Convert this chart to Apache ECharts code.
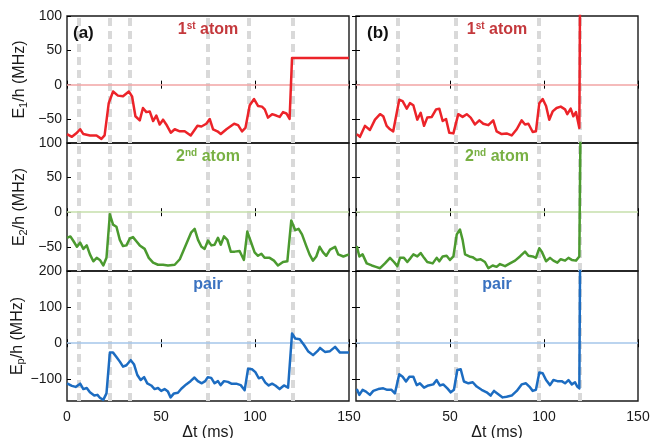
<!DOCTYPE html>
<html><head><meta charset="utf-8">
<script src="https://cdn.jsdelivr.net/npm/echarts@6/dist/echarts.min.js"></script>
<style>html,body{margin:0;padding:0;background:#fff}#c{width:652px;height:438px}</style>
</head><body><div id="c"></div><script>
// ---- data ----
const xTickVals = [0, 50, 100, 150];
const yTicksAtom = [-50, 0, 50, 100];
const yTicksPair = [-100, 0, 100, 200];
const dashA = [6, 23, 33.5, 75, 96.5, 120];
const dashB = [22, 53, 97, 119];

const a1T = [0,2.6,5.3,7,8.7,12.2,15.7,18.3,20,22.2,24.5,27.1,29.8,32.9,34.6,36.4,38.7,40.4,42.2,44,45.8,47.5,49.3,51.1,52.8,55.2,57.3,60,62.6,65.8,69.4,71.5,74.1,75.9,77.7,80,81.8,84.8,88.9,91,93.1,94.9,97.2,99.5,101.6,103.7,105.2,106.9,109.1,111.3,113.1,114.9,116.7,118.4,119.7,150];
const a1V = [-72,-76,-70,-65,-72,-74,-74,-79,-74,-27,-10,-16,-17,-10,-17,-46,-52,-34,-40,-39,-53,-45,-58,-51,-58,-70,-65,-68,-68,-74,-60,-61,-57,-50,-65,-68,-72,-65,-57,-59,-68,-63,-30,-21,-31,-32,-36,-48,-43,-45,-47,-40,-42,-50,39,39];

const a2T = [0,1.8,3.5,5.3,7,8.7,10.5,12.2,14,15.8,17.5,19.3,21,22.8,24.5,26.3,28.1,29.8,31.6,33.4,35.1,36.9,38.7,41.3,43.5,45.8,48.4,51.1,53.7,57.3,60,62.2,64.4,66.1,67.9,69.7,71.5,73.2,75,76.8,78.5,80.3,81.8,83.5,85.3,87.1,89.2,91.8,94.1,95.9,97.7,99.8,101.6,103.4,105.1,107.8,110.1,112.2,114.9,117.2,119.3,121.4,123.2,125,127.3,129,130.8,132.6,134.4,136.2,137.9,139.9,142.6,144.3,147,150];
const a2V = [-37,-35,-42,-50,-44,-53,-48,-61,-71,-66,-69,-77,-66,-3,-18,-21,-40,-49,-48,-38,-36,-42,-48,-53,-66,-73,-76,-76,-77,-76,-68,-54,-40,-29,-24,-40,-50,-53,-41,-48,-47,-37,-47,-35,-40,-57,-57,-56,-69,-28,-42,-58,-63,-60,-66,-66,-70,-77,-72,-71,-12,-26,-24,-32,-49,-61,-70,-64,-50,-58,-63,-54,-50,-61,-64,-61];

const a3T = [0,2.6,4.6,7,8.7,10.5,12.2,14.5,16.2,17.5,19.3,21,22.8,24.5,26.3,28.1,29.8,31.6,33.9,35.7,37.4,39.2,41,42.7,44.8,46.6,48.4,50.1,51.9,53.7,55.1,56.9,59,60.8,63.4,65.7,67.8,69.6,71.7,73.5,74.9,76.7,78.5,80.3,81.7,83.5,85.6,87.4,90,92.4,94.5,96.3,98.4,100.2,102,103.7,105.5,107.3,109.1,110.8,113.1,115.4,117.6,119.7,121.4,123.8,126.1,128.2,130.9,133.2,134.6,137.2,139.9,142.6,145.2,150];
const a3V = [-111,-118,-121,-112,-127,-124,-136,-145,-143,-151,-157,-139,-26,-26,-38,-51,-65,-61,-47,-59,-88,-102,-94,-111,-117,-127,-124,-132,-127,-134,-150,-139,-137,-126,-114,-105,-95,-105,-111,-105,-94,-96,-111,-105,-116,-105,-107,-112,-112,-116,-130,-71,-72,-80,-97,-94,-109,-117,-112,-117,-127,-117,-123,27,13,11,-5,-22,-33,-22,-13,-24,-22,-10,-26,-26];

const b1T = [0.4,2.1,4.8,7.4,10.1,12.8,14.5,16.3,18.1,19.8,23,24.8,27,28.7,30.5,32.6,34.4,36.2,37.9,40.3,42.6,44.3,46.1,47.9,49.6,51.8,54.4,56.7,58.9,61,63.3,65.6,67.7,70.4,73,74.8,77.5,80.1,82.8,85.5,88.1,89.9,91.7,94,95.7,97.5,99.3,101.1,102.8,104.6,106.7,108.9,111.2,112.4,114.2,115.6,117,118.8,119.5];
const b1V = [-72,-76,-60,-66,-51,-43,-46,-60,-65,-68,-22,-24,-35,-27,-30,-51,-41,-60,-48,-47,-36,-35,-53,-50,-70,-71,-43,-47,-43,-48,-58,-52,-57,-59,-52,-68,-72,-71,-74,-65,-52,-58,-57,-69,-68,-27,-21,-31,-51,-39,-34,-32,-36,-43,-35,-46,-40,-63,300];

const b2T = [0.4,1.8,3.5,5.7,8.4,10.6,12.8,15.4,18.1,20.2,22,23.4,25.5,27.3,29.1,30.5,32.6,34.4,36.2,37.9,40.8,42.9,44.3,46.1,48.2,50,51.8,53.6,55.3,56.7,58,60.3,62,64.2,66.3,68.6,70.4,72.7,74.8,76.6,79.3,81.9,84.6,87.2,89.9,91.7,94,95.7,97.5,98.8,101.1,103.2,105,107.1,108.9,111.2,113,114.8,117,118.8,120];
const b2V = [-49,-64,-61,-74,-77,-79,-81,-74,-66,-72,-78,-66,-66,-72,-66,-61,-64,-59,-66,-72,-74,-66,-71,-64,-63,-69,-64,-32,-25,-40,-61,-64,-65,-69,-68,-72,-81,-77,-79,-75,-78,-74,-70,-64,-57,-63,-64,-66,-52,-57,-71,-66,-70,-73,-68,-70,-66,-69,-70,-64,300];

const b3T = [0.4,1.8,3.5,5.3,7.4,9.2,11.8,14.5,16.6,18.9,20.7,23,24.8,26.6,28.4,30.5,32.3,34,36.2,38.5,41.1,42.9,44.6,46.4,48.6,50.4,52.1,53.9,55.7,57.4,59.8,62.1,64.2,66.8,69.5,71.6,73.4,75.7,78,80.1,82.8,85.5,88.1,90.4,92.2,94,95.7,97.5,99.3,101.1,103.2,105,107.1,109.4,111.2,113,114.8,116.5,117.7,118.8,119.5];
const b3V = [-127,-143,-129,-134,-143,-132,-127,-125,-129,-129,-139,-86,-93,-106,-93,-93,-116,-111,-123,-117,-114,-102,-117,-114,-125,-136,-129,-74,-72,-106,-111,-108,-120,-129,-136,-145,-132,-141,-150,-148,-145,-132,-114,-111,-120,-132,-129,-81,-83,-102,-116,-102,-105,-105,-111,-102,-114,-108,-120,-125,500];

// ---- styling / layout ----
const FONT = '"Liberation Sans", Arial, Helvetica, sans-serif';
const colLeft = [67, 356];
const colW = 282;
const rowTop = [16, 143, 271];
const rowH = [127, 128, 130];
const rows = [
  {min: -85, max: 100, ticks: yTicksAtom, name: '{n|E}{s|1}{n|/h (MHz)}', line: '#ec2329', zero: '#f2a5a5',
   title: '{t|1}{u|st}{t| atom}', tcol: '#c4383c'},
  {min: -85, max: 100, ticks: yTicksAtom, name: '{n|E}{s|2}{n|/h (MHz)}', line: '#4b9a2f', zero: '#c6dfab',
   title: '{t|2}{u|nd}{t| atom}', tcol: '#78b043'},
  {min: -160, max: 200, ticks: yTicksPair, name: '{n|E}{s|p}{n|/h (MHz)}', line: '#1c6cc1', zero: '#a5c6ea',
   title: '{t|pair}', tcol: '#3a72c0'}
];
const panels = [
  {c: 0, r: 0, t: a1T, v: a1V}, {c: 0, r: 1, t: a2T, v: a2V}, {c: 0, r: 2, t: a3T, v: a3V},
  {c: 1, r: 0, t: b1T, v: b1V}, {c: 1, r: 1, t: b2T, v: b2V}, {c: 1, r: 2, t: b3T, v: b3V}
];
const minus = v => (v < 0 ? '\u2212' + Math.abs(v) : String(v));

const grid = [], xAxis = [], yAxis = [], series = [], graphic = [];
const tickStyle = {show: true, inside: true, length: 4, lineStyle: {color: '#000', width: 1}};

panels.forEach((p, i) => {
  const R = rows[p.r];
  grid.push({left: colLeft[p.c], top: rowTop[p.r], width: colW, height: rowH[p.r],
    show: true, borderColor: '#1a1a1a', borderWidth: 1.4, backgroundColor: 'transparent', outerBoundsMode: 'none'});
  const xLabels = p.r === 2 ? (p.c === 0 ? xTickVals : xTickVals.slice(1)) : [];
  xAxis.push({type: 'value', gridIndex: i, min: 0, max: 150, position: 'bottom',
    axisLine: {show: false}, splitLine: {show: false},
    axisTick: Object.assign({customValues: xTickVals}, tickStyle),
    axisLabel: {show: p.r === 2, customValues: xLabels, margin: 9, fontSize: 14, color: '#1a1a1a', fontFamily: FONT},
    name: p.r === 2 ? '\u0394t (ms)' : '', nameLocation: 'middle', nameGap: 22,
    nameTextStyle: {fontSize: 16, color: '#1a1a1a', fontFamily: FONT}});
  xAxis.push({type: 'value', gridIndex: i, min: 0, max: 150, position: 'top',
    axisLine: {show: false}, splitLine: {show: false},
    axisTick: Object.assign({customValues: xTickVals}, tickStyle), axisLabel: {show: false}});
  yAxis.push({type: 'value', gridIndex: i, min: R.min, max: R.max, position: 'left',
    axisLine: {show: false}, splitLine: {show: false},
    axisTick: Object.assign({customValues: R.ticks}, tickStyle),
    axisLabel: {show: p.c === 0, customValues: R.ticks, formatter: minus, margin: 5, fontSize: 14, color: '#1a1a1a', fontFamily: FONT},
    name: p.c === 0 ? R.name : '', nameLocation: 'middle', nameGap: 38, nameRotate: 90,
    nameTextStyle: {fontFamily: FONT, color: '#1a1a1a',
      rich: {n: {fontSize: 16, fontFamily: FONT, color: '#1a1a1a', lineHeight: 18},
             s: {fontSize: 11, fontFamily: FONT, color: '#1a1a1a', verticalAlign: 'bottom', lineHeight: 11}}}});
  yAxis.push({type: 'value', gridIndex: i, min: R.min, max: R.max, position: 'right',
    axisLine: {show: false}, splitLine: {show: false},
    axisTick: Object.assign({customValues: R.ticks}, tickStyle, {show: p.c === 1}), axisLabel: {show: false}});

  const xi = 2 * i, yi = 2 * i;
  const dashes = p.c === 0 ? dashA : dashB;
  const data = p.t.map((t, k) => [t, p.v[k]]);
  // background: dashed gray markers and zero line
  series.push({type: 'line', xAxisIndex: xi, yAxisIndex: yi, data: data, z: 1, silent: true,
    showSymbol: false, lineStyle: {opacity: 0}, animation: false,
    markLine: {silent: true, symbol: 'none', animation: false, label: {show: false}, z: 1,
      data: dashes.map(d => ({xAxis: d, lineStyle: {color: '#d9d9d9', width: 4, type: [8, 5]}}))
        .concat([{yAxis: 0, lineStyle: {color: R.zero, width: 1.6, type: 'solid'}}])}});
  series.push({type: 'line', xAxisIndex: xi, yAxisIndex: yi, data: data, z: 6,
    showSymbol: false, clip: true, animation: false,
    lineStyle: {color: R.line, width: 2.5, join: 'round'}});

  // panel title
  graphic.push({type: 'text', z: 10, style: {
    text: R.title, x: colLeft[p.c] + colW / 2, y: rowTop[p.r] + 14, align: 'center', verticalAlign: 'middle',
    rich: {t: {fontSize: 16, fontWeight: 'bold', fontFamily: FONT, fill: R.tcol, lineHeight: 18},
           u: {fontSize: 10, fontWeight: 'bold', fontFamily: FONT, fill: R.tcol, verticalAlign: 'top', lineHeight: 10}}}});
});
graphic.push({type: 'text', z: 10, style: {text: '(a)', x: 73, y: 33, verticalAlign: 'middle',
  font: 'bold 17px ' + FONT, fill: '#111'}});
graphic.push({type: 'text', z: 10, style: {text: '(b)', x: 367, y: 33, verticalAlign: 'middle',
  font: 'bold 17px ' + FONT, fill: '#111'}});

const chart = echarts.init(document.getElementById('c'), null, {renderer: 'canvas'});
chart.setOption({animation: false, backgroundColor: '#fff', grid, xAxis, yAxis, series, graphic});
</script></body></html>
